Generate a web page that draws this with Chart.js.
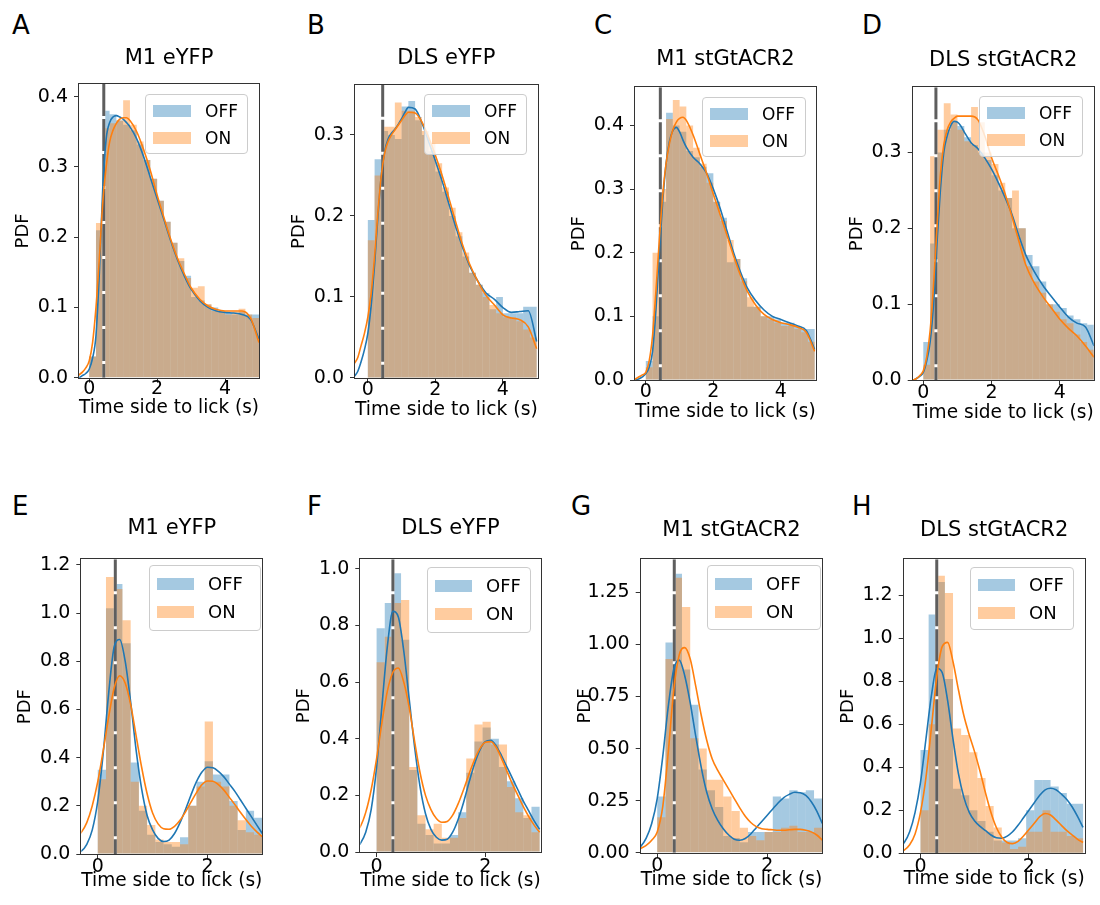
<!DOCTYPE html>
<html>
<head>
<meta charset="utf-8">
<script src="https://cdn.jsdelivr.net/npm/chart.js@4.4.1/dist/chart.umd.min.js"></script>
<style>
  html, body { margin: 0; padding: 0; background: #ffffff; }
  #fig { position: relative; width: 1100px; height: 905px; overflow: hidden; background: #ffffff;
         font-family: "DejaVu Sans", sans-serif; color: #000; }
  .letter { position: absolute; font-size: 26px; line-height: 26px; white-space: nowrap; }
  canvas { position: absolute; }
  .legend { position: absolute; box-sizing: border-box; background: rgba(255,255,255,0.8);
            border: 1px solid #cccccc; border-radius: 4px; }
  .lrow { position: absolute; left: 0; right: 0; height: 20px; }
  .patch { position: absolute; top: 4px; height: 12px; }
  .ltext { position: absolute; top: 0; line-height: 20px; white-space: nowrap; }
</style>
</head>
<body>
<div id="fig"></div>
<script>
// ---------------- DATA ----------------
const seriesNames = ['OFF', 'ON'];
const panelLetters = ['A', 'B', 'C', 'D', 'E', 'F', 'G', 'H'];
const panelTitles = ['M1 eYFP', 'DLS eYFP', 'M1 stGtACR2', 'DLS stGtACR2',
                     'M1 eYFP', 'DLS eYFP', 'M1 stGtACR2', 'DLS stGtACR2'];
const xAxisTitle = 'Time side to lick (s)';
const yAxisTitle = 'PDF';

// histogram bin centres (0.2 s bins on 0-5 s, 0.15 s bins on 0-3 s)
const binCentersTop = [0.1,0.3,0.5,0.7,0.9,1.1,1.3,1.5,1.7,1.9,2.1,2.3,2.5,2.7,2.9,3.1,3.3,3.5,3.7,3.9,4.1,4.3,4.5,4.7,4.9];
const binCentersBottom = [0.075,0.225,0.375,0.525,0.675,0.825,0.975,1.125,1.275,1.425,1.575,1.725,1.875,2.025,2.175,2.325,2.475,2.625,2.775,2.925];

// KDE sample positions
const kdeXTop = [-0.4,-0.3,-0.2,-0.1,0,0.1,0.2,0.3,0.4,0.5,0.6,0.7,0.8,0.9,1.0,1.1,1.2,1.4,1.6,1.8,2.0,2.2,2.4,2.6,2.8,3.0,3.25,3.5,3.75,4.0,4.25,4.5,4.75,5.0];
const kdeXBottom = [-0.4,-0.3,-0.2,-0.1,0,0.1,0.2,0.3,0.4,0.5,0.6,0.7,0.8,0.9,1.0,1.1,1.2,1.3,1.4,1.5,1.6,1.7,1.8,1.9,2.0,2.1,2.2,2.3,2.4,2.5,2.6,2.7,2.8,2.9,3.0];

// Panel A
const histA_off = [0.03,0.21,0.38,0.375,0.366,0.36,0.352,0.332,0.31,0.283,0.252,0.222,0.192,0.166,0.145,0.115,0.11,0.104,0.1,0.095,0.093,0.09,0.094,0.09,0.09];
const histA_on  = [0.03,0.22,0.355,0.362,0.366,0.395,0.36,0.336,0.31,0.283,0.252,0.222,0.192,0.17,0.142,0.128,0.13,0.105,0.095,0.094,0.09,0.094,0.098,0.09,0.085];
const kdeA_off = [0,0,0.003,0.006,0.012,0.028,0.06,0.15,0.27,0.34,0.363,0.371,0.373,0.371,0.368,0.363,0.357,0.34,0.315,0.285,0.255,0.225,0.195,0.168,0.145,0.126,0.11,0.1,0.095,0.093,0.092,0.09,0.083,0.055];
const kdeA_on  = [0,0.004,0.008,0.014,0.024,0.05,0.1,0.17,0.25,0.3,0.335,0.352,0.362,0.368,0.37,0.37,0.366,0.35,0.325,0.295,0.26,0.228,0.197,0.17,0.148,0.128,0.112,0.102,0.097,0.095,0.095,0.095,0.085,0.05];
// Panel B
const histB_off = [0.195,0.27,0.305,0.3,0.295,0.335,0.342,0.318,0.3,0.28,0.255,0.23,0.2,0.175,0.15,0.13,0.115,0.105,0.085,0.1,0.08,0.08,0.08,0.088,0.088];
const histB_on  = [0.17,0.25,0.31,0.31,0.34,0.33,0.33,0.322,0.305,0.29,0.265,0.235,0.21,0.18,0.155,0.13,0.115,0.1,0.09,0.08,0.075,0.075,0.07,0.06,0.05];
const kdeB_off = [0.002,0.008,0.02,0.035,0.055,0.09,0.14,0.2,0.25,0.28,0.295,0.302,0.307,0.313,0.32,0.328,0.334,0.332,0.315,0.292,0.268,0.243,0.215,0.187,0.162,0.14,0.12,0.105,0.097,0.087,0.081,0.082,0.083,0.045];
const kdeB_on  = [0.018,0.025,0.04,0.055,0.075,0.105,0.15,0.205,0.25,0.278,0.292,0.3,0.306,0.312,0.318,0.324,0.328,0.327,0.316,0.297,0.275,0.25,0.222,0.193,0.165,0.142,0.12,0.102,0.09,0.078,0.074,0.072,0.063,0.036];
// Panel C
const histC_off = [0.03,0.1,0.28,0.42,0.4,0.39,0.36,0.35,0.335,0.325,0.28,0.255,0.185,0.19,0.16,0.115,0.115,0.1,0.1,0.095,0.09,0.09,0.085,0.08,0.08];
const histC_on  = [0.02,0.2,0.3,0.41,0.44,0.43,0.4,0.365,0.34,0.31,0.28,0.25,0.22,0.19,0.155,0.13,0.115,0.1,0.095,0.09,0.085,0.085,0.08,0.075,0.06];
const kdeC_off = [0,0,0.002,0.005,0.01,0.02,0.045,0.11,0.2,0.28,0.34,0.375,0.392,0.397,0.39,0.377,0.366,0.35,0.34,0.325,0.3,0.27,0.235,0.2,0.17,0.145,0.125,0.11,0.1,0.095,0.09,0.085,0.078,0.048];
const kdeC_on  = [0,0.002,0.005,0.008,0.012,0.03,0.07,0.14,0.22,0.29,0.34,0.372,0.393,0.405,0.411,0.413,0.408,0.385,0.355,0.325,0.292,0.26,0.228,0.195,0.165,0.14,0.118,0.103,0.095,0.09,0.087,0.083,0.075,0.045];
// Panel D
const histD_off = [0.05,0.18,0.3,0.33,0.34,0.335,0.32,0.31,0.3,0.29,0.27,0.25,0.24,0.2,0.2,0.165,0.15,0.13,0.1,0.1,0.095,0.085,0.08,0.075,0.073];
const histD_on  = [0.02,0.295,0.33,0.365,0.35,0.33,0.315,0.36,0.34,0.3,0.285,0.26,0.24,0.25,0.2,0.15,0.13,0.115,0.1,0.09,0.08,0.075,0.06,0.05,0.04];
const kdeD_off = [0,0,0.002,0.005,0.01,0.025,0.05,0.1,0.18,0.25,0.3,0.322,0.335,0.341,0.34,0.335,0.327,0.313,0.305,0.293,0.278,0.26,0.24,0.218,0.19,0.165,0.143,0.125,0.11,0.096,0.083,0.075,0.07,0.045];
const kdeD_on  = [0,0,0.002,0.006,0.012,0.03,0.065,0.125,0.2,0.27,0.31,0.33,0.34,0.345,0.348,0.348,0.348,0.348,0.343,0.322,0.293,0.27,0.245,0.215,0.183,0.152,0.128,0.11,0.095,0.08,0.068,0.058,0.045,0.03];
// Panel E
const histE_off = [0.35,1.02,1.12,0.875,0.38,0.18,0.08,0.05,0.04,0.03,0.07,0.2,0.3,0.385,0.33,0.33,0.22,0.1,0.18,0.15];
const histE_on  = [0.31,1.15,1.1,0.97,0.3,0.2,0.12,0.06,0.05,0.05,0.04,0.2,0.28,0.55,0.3,0.28,0.2,0.14,0.09,0.08];
const kdeE_off = [0.005,0.012,0.04,0.1,0.22,0.42,0.67,0.86,0.89,0.8,0.63,0.43,0.27,0.16,0.1,0.065,0.052,0.058,0.085,0.13,0.185,0.245,0.3,0.34,0.36,0.358,0.343,0.32,0.29,0.26,0.225,0.19,0.155,0.12,0.085];
const kdeE_on  = [0.07,0.09,0.13,0.2,0.3,0.43,0.57,0.69,0.74,0.71,0.62,0.49,0.36,0.25,0.17,0.125,0.105,0.103,0.115,0.14,0.175,0.215,0.255,0.288,0.303,0.302,0.288,0.265,0.235,0.205,0.173,0.143,0.115,0.092,0.072];
// Panel F
const histF_off = [0.79,0.88,0.985,0.75,0.29,0.1,0.06,0.03,0.03,0.06,0.14,0.28,0.39,0.44,0.4,0.3,0.25,0.19,0.12,0.16];
const histF_on  = [0.67,0.76,0.88,0.89,0.3,0.13,0.08,0.1,0.05,0.05,0.12,0.33,0.45,0.46,0.38,0.38,0.23,0.14,0.13,0.07];
const kdeF_off = [0.01,0.03,0.07,0.15,0.3,0.52,0.73,0.85,0.83,0.71,0.54,0.37,0.23,0.135,0.08,0.052,0.042,0.045,0.07,0.115,0.175,0.245,0.31,0.36,0.39,0.395,0.375,0.34,0.3,0.26,0.22,0.18,0.145,0.11,0.08];
const kdeF_on  = [0.07,0.09,0.14,0.22,0.33,0.46,0.57,0.635,0.65,0.6,0.51,0.39,0.28,0.2,0.15,0.118,0.105,0.108,0.13,0.17,0.22,0.275,0.325,0.365,0.388,0.39,0.37,0.33,0.285,0.24,0.2,0.16,0.125,0.095,0.07];
// Panel G
const histG_off = [0.27,1.01,1.34,0.88,0.71,0.4,0.3,0.22,0.08,0.07,0.05,0.1,0.1,0.1,0.27,0.26,0.3,0.29,0.3,0.26];
const histG_on  = [0.17,0.93,1.32,1.18,0.55,0.5,0.35,0.35,0.27,0.2,0.12,0.08,0.06,0.1,0.1,0.12,0.13,0.1,0.1,0.12];
const kdeG_off = [0.01,0.03,0.07,0.14,0.26,0.46,0.7,0.88,0.925,0.85,0.72,0.56,0.41,0.29,0.21,0.155,0.115,0.085,0.065,0.06,0.068,0.09,0.12,0.15,0.18,0.21,0.24,0.265,0.28,0.29,0.288,0.275,0.245,0.2,0.14];
const kdeG_on  = [0.005,0.02,0.035,0.06,0.1,0.22,0.48,0.78,0.95,0.985,0.93,0.8,0.66,0.54,0.45,0.395,0.35,0.305,0.26,0.215,0.175,0.145,0.125,0.115,0.112,0.11,0.108,0.108,0.11,0.112,0.112,0.108,0.1,0.085,0.06];
// Panel H
const histH_off = [0.48,1.11,1.26,0.81,0.3,0.27,0.2,0.15,0.1,0.06,0.06,0.06,0.07,0.2,0.34,0.34,0.31,0.28,0.23,0.23];
const histH_on  = [0.2,0.6,1.29,1.21,0.58,0.55,0.47,0.35,0.22,0.12,0.05,0.02,0.03,0.1,0.1,0.2,0.1,0.1,0.08,0.07];
const kdeH_off = [0.03,0.05,0.1,0.19,0.33,0.53,0.73,0.86,0.84,0.71,0.53,0.37,0.26,0.19,0.15,0.125,0.105,0.085,0.072,0.07,0.08,0.1,0.13,0.165,0.2,0.235,0.27,0.295,0.302,0.295,0.275,0.25,0.215,0.17,0.12];
const kdeH_on  = [0.005,0.015,0.04,0.09,0.19,0.35,0.58,0.82,0.96,0.98,0.89,0.76,0.64,0.55,0.47,0.38,0.28,0.19,0.12,0.075,0.05,0.045,0.055,0.08,0.11,0.14,0.17,0.185,0.178,0.155,0.13,0.105,0.085,0.065,0.05];

// stimulation-onset marker (dashed vertical line), s
const vlineX = [0.43, 0.44, 0.43, 0.37, 0.32, 0.30, 0.31, 0.30];

// axis ranges and ticks
const xMinVals = [-0.3, -0.38, -0.32, -0.31, -0.30, -0.30, -0.30, -0.31];
const xMaxVals = [5.0, 5.03, 5.03, 4.99, 3.0, 3.02, 3.0, 3.03];
const yMaxVals = [0.418, 0.362, 0.46, 0.386, 1.223, 1.034, 1.409, 1.366];
const xTicksTop = [0, 2, 4];
const xTicksBottom = [0, 2];
const yTicksA = [0, 0.1, 0.2, 0.3, 0.4];
const yTicksB = [0, 0.1, 0.2, 0.3];
const yTicksC = [0, 0.1, 0.2, 0.3, 0.4];
const yTicksD = [0, 0.1, 0.2, 0.3];
const yTicksE = [0, 0.2, 0.4, 0.6, 0.8, 1.0, 1.2];
const yTicksF = [0, 0.2, 0.4, 0.6, 0.8, 1.0];
const yTicksG = [0, 0.25, 0.5, 0.75, 1.0, 1.25];
const yTicksH = [0, 0.2, 0.4, 0.6, 0.8, 1.0, 1.2];
const yTickDecimals = [1, 1, 1, 1, 1, 1, 2, 1];

// ---------------- LAYOUT (pixel geometry, not data) ----------------
const layout = [
  {plot:[79, 84, 259, 377.7],      titleY:58.5,  xTitleOff:30.5, xTickPad:-5,   legend:[145, 94, 103, 60], rowGap:27, patchW:38, lfont:17, letter:[12, 12]},
  {plot:[355, 84.7, 537.7, 378],   titleY:59,    xTitleOff:32,   xTickPad:-4.5, legend:[424, 94, 103, 61], rowGap:27, patchW:38, lfont:17, letter:[307, 12]},
  {plot:[635, 87.3, 815.7, 380],   titleY:59.5,  xTitleOff:32,   xTickPad:-4.5, legend:[702, 97, 104, 60], rowGap:27, patchW:38, lfont:17, letter:[594, 12]},
  {plot:[912.7, 87.3, 1093.7, 380],titleY:60.5,  xTitleOff:33,   xTickPad:-3.5, legend:[979, 96, 104, 61], rowGap:27, patchW:38, lfont:17, letter:[862, 12]},
  {plot:[81.3, 559.3, 262.3, 854], titleY:528.5, xTitleOff:27,   xTickPad:-3,   legend:[149, 565, 112, 66], rowGap:28, patchW:37, lfont:18, letter:[12, 493]},
  {plot:[360.3, 559.3, 540.7, 852],titleY:528.5, xTitleOff:29.5, xTickPad:-1,   legend:[427, 567, 104, 66], rowGap:28, patchW:37, lfont:18, letter:[307, 493]},
  {plot:[640.7, 559.3, 822.3, 852.7],titleY:531, xTitleOff:27,   xTickPad:-3,   legend:[707, 565, 114, 65], rowGap:28, patchW:37, lfont:18, letter:[571, 493]},
  {plot:[903.7, 559.3, 1084.7, 853.3],titleY:531,xTitleOff:26,   xTickPad:-3,   legend:[970, 567, 104, 63], rowGap:28, patchW:37, lfont:18, letter:[852, 493]}
];

// ---------------- BUILD ----------------
const panels = [
  {hist:[histA_off, histA_on], kde:[kdeA_off, kdeA_on], bins:binCentersTop, kx:kdeXTop, xt:xTicksTop, yt:yTicksA},
  {hist:[histB_off, histB_on], kde:[kdeB_off, kdeB_on], bins:binCentersTop, kx:kdeXTop, xt:xTicksTop, yt:yTicksB},
  {hist:[histC_off, histC_on], kde:[kdeC_off, kdeC_on], bins:binCentersTop, kx:kdeXTop, xt:xTicksTop, yt:yTicksC},
  {hist:[histD_off, histD_on], kde:[kdeD_off, kdeD_on], bins:binCentersTop, kx:kdeXTop, xt:xTicksTop, yt:yTicksD},
  {hist:[histE_off, histE_on], kde:[kdeE_off, kdeE_on], bins:binCentersBottom, kx:kdeXBottom, xt:xTicksBottom, yt:yTicksE},
  {hist:[histF_off, histF_on], kde:[kdeF_off, kdeF_on], bins:binCentersBottom, kx:kdeXBottom, xt:xTicksBottom, yt:yTicksF},
  {hist:[histG_off, histG_on], kde:[kdeG_off, kdeG_on], bins:binCentersBottom, kx:kdeXBottom, xt:xTicksBottom, yt:yTicksG},
  {hist:[histH_off, histH_on], kde:[kdeH_off, kdeH_on], bins:binCentersBottom, kx:kdeXBottom, xt:xTicksBottom, yt:yTicksH}
];

const FONT = "'DejaVu Sans', sans-serif";
Chart.defaults.font.family = FONT;
Chart.defaults.color = '#000';

const barColors = ['rgba(31,119,180,0.4)', 'rgba(255,127,14,0.4)'];
const lineColors = ['#1f77b4', '#ff7f0e'];
const spineColor = '#333333';

const framePlugin = {
  id: 'frame',
  afterDatasetsDraw(chart) {
    const a = chart.chartArea, ctx = chart.ctx;
    ctx.save();
    ctx.strokeStyle = spineColor;
    ctx.lineWidth = 1;
    const l = Math.round(a.left) - 0.5, t = Math.round(a.top) - 0.5;
    const r = Math.round(a.right) + 0.5, b = Math.round(a.bottom) + 0.5;
    ctx.strokeRect(l, t, r - l, b - t);
    ctx.restore();
  }
};

const fig = document.getElementById('fig');

panels.forEach((p, i) => {
  const lay = layout[i];
  const [L, T, R, B] = lay.plot;

  // panel letter
  const let_ = document.createElement('div');
  let_.className = 'letter';
  let_.style.left = lay.letter[0] + 'px';
  let_.style.top = lay.letter[1] + 'px';
  let_.textContent = panelLetters[i];
  fig.appendChild(let_);

  // geometry
  const titleSize = 21, titleLH = titleSize * 1.2;
  const cLeft = Math.round(L - 66);
  const yW = L - cLeft;
  const cTop = Math.round(lay.titleY - titleLH / 2 - 4);
  const tPadTop = lay.titleY - titleLH / 2 - cTop;
  const tPadBottom = T - cTop - tPadTop - titleLH;
  const xLabelSize = 19, xLH = xLabelSize * 1.2;
  const xH = lay.xTitleOff + xLH / 2;
  const cW = Math.ceil(R - cLeft + 3);
  const padRight = cLeft + cW - R;
  const cH = Math.ceil(B + xH - cTop + 2);
  const padBottom = cTop + cH - (B + xH);

  const cv = document.createElement('canvas');
  cv.width = cW; cv.height = cH;
  cv.style.left = cLeft + 'px'; cv.style.top = cTop + 'px';
  cv.style.width = cW + 'px'; cv.style.height = cH + 'px';
  fig.appendChild(cv);

  const ymax = yMaxVals[i];
  const dec = yTickDecimals[i];
  const v = vlineX[i];

  // draw order (matplotlib zorder): bars below, onset line, KDE lines on top
  const barOrder = [8, 7];
  const lineOrder = [2, 1];
  const datasets = [];
  for (let s = 0; s < 2; s++) {
    datasets.push({
      type: 'bar', label: seriesNames[s],
      data: p.bins.map((x, k) => ({x: x, y: p.hist[s][k]})),
      backgroundColor: barColors[s], borderWidth: 0, inflateAmount: 0,
      grouped: false, barPercentage: 1, categoryPercentage: 1,
      order: barOrder[s]
    });
    datasets.push({
      type: 'line', label: seriesNames[s] + ' KDE',
      data: p.kx.map((x, k) => ({x: x, y: p.kde[s][k]})),
      borderColor: lineColors[s], borderWidth: 1.6, pointRadius: 0,
      cubicInterpolationMode: 'monotone', fill: false,
      order: lineOrder[s]
    });
  }
  datasets.push({
    type: 'line', label: 'onset-base',
    data: [{x: v, y: ymax}, {x: v, y: 0}],
    borderColor: '#ffffff', borderWidth: 3, pointRadius: 0, fill: false, order: 4
  });
  datasets.push({
    type: 'line', label: 'onset',
    data: [{x: v, y: ymax}, {x: v, y: 0}],
    borderColor: '#5e5e5e', borderWidth: 3, borderDash: [32, 3], pointRadius: 0, fill: false, order: 3
  });

  const gridOpts = {display: true, drawOnChartArea: false, drawTicks: true, tickLength: 5,
                    offset: false, color: spineColor, tickColor: spineColor, lineWidth: 1};

  new Chart(cv, {
    type: 'bar',
    data: {datasets},
    options: {
      responsive: false, animation: false, devicePixelRatio: 1,
      layout: {padding: {left: 0, top: 0, right: padRight, bottom: padBottom}},
      plugins: {
        legend: {display: false},
        tooltip: {enabled: false},
        title: {display: true, text: panelTitles[i], fullSize: false, color: '#000',
                font: {family: FONT, size: titleSize, weight: 'normal', lineHeight: 1.2},
                padding: {top: tPadTop, bottom: tPadBottom}}
      },
      scales: {
        x: {
          type: 'linear', min: xMinVals[i], max: xMaxVals[i], offset: false,
          afterBuildTicks: (sc) => { sc.ticks = p.xt.map(t => ({value: t})); },
          afterFit: (sc) => { sc.height = xH; },
          grid: gridOpts, border: {display: false},
          ticks: {font: {family: FONT, size: 19}, color: '#000', padding: lay.xTickPad,
                  maxRotation: 0, autoSkip: false, callback: (val) => String(val)},
          title: {display: true, text: xAxisTitle, color: '#000',
                  font: {family: FONT, size: xLabelSize, lineHeight: 1.2}, padding: {top: 0, bottom: 0}}
        },
        y: {
          type: 'linear', min: 0, max: ymax,
          afterBuildTicks: (sc) => { sc.ticks = p.yt.map(t => ({value: t})); },
          afterFit: (sc) => { sc.width = yW; },
          grid: gridOpts, border: {display: false},
          ticks: {font: {family: FONT, size: 19}, color: '#000', padding: 6,
                  autoSkip: false, callback: (val) => Number(val).toFixed(dec)},
          title: {display: true, text: yAxisTitle, color: '#000',
                  font: {family: FONT, size: 18, lineHeight: 1.2}, padding: {top: 0, bottom: 0}}
        }
      }
    },
    plugins: [framePlugin]
  });

  // legend (HTML, real text)
  const [lx, ly, lw, lh] = lay.legend;
  const lg = document.createElement('div');
  lg.className = 'legend';
  lg.style.left = lx + 'px'; lg.style.top = ly + 'px';
  lg.style.width = lw + 'px'; lg.style.height = lh + 'px';
  const firstCenter = (lh - lay.rowGap) / 2;
  for (let s = 0; s < 2; s++) {
    const row = document.createElement('div');
    row.className = 'lrow';
    row.style.top = (firstCenter + s * lay.rowGap - 10 - 1) + 'px';
    const patch = document.createElement('div');
    patch.className = 'patch';
    patch.style.left = '7px';
    patch.style.width = lay.patchW + 'px';
    patch.style.background = barColors[s];
    const tx = document.createElement('div');
    tx.className = 'ltext';
    tx.style.left = (7 + lay.patchW + 14) + 'px';
    tx.style.fontSize = lay.lfont + 'px';
    tx.textContent = seriesNames[s];
    row.appendChild(patch); row.appendChild(tx);
    lg.appendChild(row);
  }
  fig.appendChild(lg);
});
</script>
</body>
</html>
